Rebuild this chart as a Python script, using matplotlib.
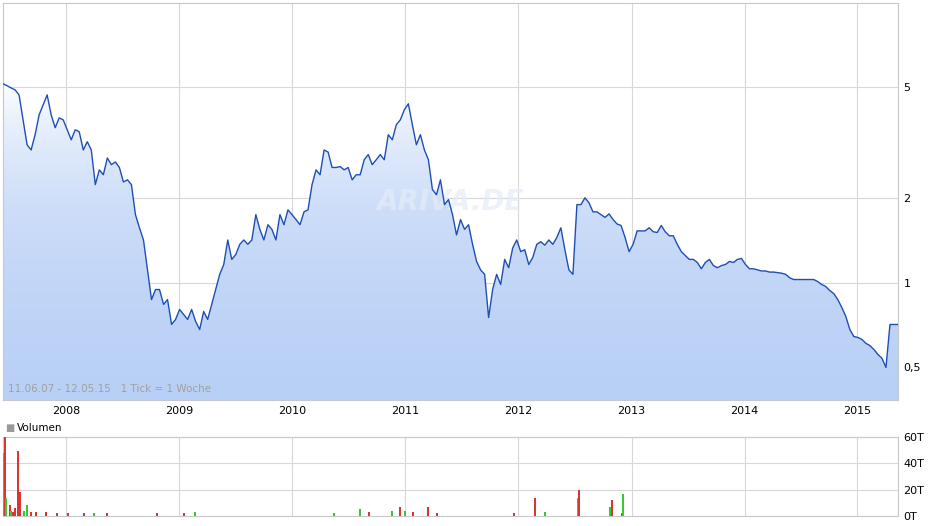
import numpy as np
import pandas as pd
import matplotlib
matplotlib.use("Agg")
import matplotlib.pyplot as plt
import matplotlib.dates as mdates
from matplotlib.patches import Polygon
from matplotlib.colors import LinearSegmentedColormap

start, end = "2007-06-11", "2015-05-12"
prices = [5.14,5.06,4.97,4.89,4.69,3.82,3.11,2.98,3.38,3.98,4.32,4.69,3.98,3.58,3.88,3.82,
          3.52,3.24,3.52,3.46,2.98,3.19,2.98,2.24,2.53,2.43,2.79,2.64,2.70,2.58,2.29,2.33,
          2.24,1.75,1.57,1.42,1.11,0.869,0.944,0.944,0.835,0.869,0.708,0.738,
          0.801,0.769,0.738,0.801,0.726,0.679,0.788,0.738,0.835,0.944,1.07,1.16,1.42,1.21,
          1.26,1.37,1.42,1.37,1.42,1.75,1.55,1.42,1.61,1.55,1.42,1.75,1.61,1.82,1.75,1.68,
          1.61,1.79,1.82,2.24,2.53,2.43,2.98,2.93,2.58,2.58,2.60,2.53,2.58,2.33,2.43,2.43,
          2.75,2.87,2.64,2.75,2.87,2.75,3.38,3.24,3.67,3.82,4.15,4.36,3.67,3.11,3.38,2.98,
          2.75,2.15,2.06,2.33,1.90,1.98,1.75,1.48,1.68,1.55,1.61,1.37,1.19,1.11,1.07,0.750,
          0.944,1.07,0.984,1.21,1.13,1.33,1.42,1.29,1.31,1.16,1.23,1.37,1.40,1.36,1.42,1.37,
          1.45,1.57,1.31,1.11,1.07,
          1.90,1.90,2.01,1.93,1.79,1.79,1.75,1.71,1.76,1.68,1.62,1.60,1.45,1.29,1.37,1.53,
          1.53,1.53,1.57,1.52,1.51,1.60,1.52,1.47,1.47,1.37,1.29,1.25,1.21,1.21,1.18,1.12,
          1.18,1.21,1.15,1.13,1.15,1.16,1.19,1.18,1.21,1.22,1.16,1.12,1.12,1.11,1.10,1.10,
          1.09,1.09,1.085,1.08,1.07,1.04,1.025,1.025,1.025,1.025,1.025,1.025,1.008,0.984,
          0.968,0.936,0.913,0.869,0.814,0.756,0.679,0.641,0.636,0.626,0.606,0.595,0.576,
          0.553,0.536,0.497,0.708,0.708,0.708]
vol_years = [2007.45,2007.46,2007.47,2007.50,2007.51,2007.53,2007.55,2007.57,2007.59,2007.63,
             2007.65,2007.69,2007.73,2007.82,2007.92,2008.02,2008.16,2008.25,2008.36,2008.80,
             2009.04,2009.14,2010.37,2010.60,2010.68,2010.88,2010.95,2011.00,2011.07,2011.20,
             2011.28,2011.96,2012.15,2012.24,2012.53,2012.54,2012.81,2012.83,2012.92,2012.93]
vol_values = [48,60,14,8,4,3,6,49,18,4,8,3,3,3,2,2,2,2,2,2,2,3,2,5,3,4,7,4,3,7,2,2,14,3,14,20,7,12,2,17]
vol_colors = ["g","r","g","r","g","r","r","r","r","g","g","r","r","r","r","r","r","g","r","r",
              "r","g","g","g","r","g","r","g","r","r","r","r","r","g","g","r","g","r","r","g"]

W, H = 940, 526
fig = plt.figure(figsize=(W/100, H/100), dpi=100)
ax = fig.add_axes([3/W, 1-400/H, 895/W, 397/H])
axv = fig.add_axes([3/W, 1-516/H, 895/W, 79/H])

dates = pd.date_range(start, end, periods=len(prices))
x = mdates.date2num(dates)
p = np.array(prices)
ymin, ymax = 0.38, 10.0
ax.set_yscale("log")
ax.set_xlim(x[0], x[-1]); ax.set_ylim(ymin, ymax)

grad = np.linspace(0, 1, 256).reshape(-1, 1)
cm = LinearSegmentedColormap.from_list("g", ["#b9d0f6", "#ffffff"])
poly = Polygon(np.column_stack([np.r_[x, x[-1], x[0]], np.r_[p, ymin, ymin]]),
               closed=True, facecolor="none", edgecolor="none")
ax.add_patch(poly)
im = ax.imshow(grad, aspect="auto", cmap=cm, origin="lower",
               extent=[x[0], x[-1], ymin, 5.2], zorder=1)
im.set_clip_path(poly)
ax.plot(x, p, color="#1f4fb5", lw=1.0, zorder=3)

yt = [0.5, 1, 2, 5]
ax.set_yticks(yt); ax.set_yticklabels(["0,5", "1", "2", "5"])
ax.yaxis.set_minor_locator(matplotlib.ticker.NullLocator())
ax.yaxis.tick_right()
years = [mdates.date2num(pd.Timestamp(f"{y}-01-01")) for y in range(2008, 2016)]
ax.set_xticks(years); ax.set_xticklabels([str(y) for y in range(2008, 2016)])
for a in (ax, axv):
    a.grid(True, color="#d8d8d8", lw=0.8, zorder=0)
    a.set_axisbelow(True)
    a.tick_params(length=0, labelsize=8, pad=4)
    for s in a.spines.values():
        s.set_color("#c8c8c8")
ax.text(0.006, 0.02, "11.06.07 - 12.05.15   1 Tick = 1 Woche", transform=ax.transAxes,
        fontsize=7.5, color="#a0a0a0", zorder=4)
ax.text(0.5, 0.5, "ARIVA.DE", transform=ax.transAxes, fontsize=20, color="#e4ecf8",
        alpha=0.7, ha="center", va="center", fontweight="bold", style="italic", zorder=2)

vx = [mdates.date2num(pd.Timestamp("2007-01-01") + pd.Timedelta(days=(v-2007)*365.25)) for v in vol_years]
cmap = {"g": "#33cc33", "r": "#dd3333"}
axv.vlines(vx, 0, vol_values, colors=[cmap[c] for c in vol_colors], lw=1.1, zorder=3,
           antialiased=False)
axv.set_xlim(x[0], x[-1]); axv.set_ylim(0, 60)
axv.set_yticks([0, 20, 40, 60]); axv.set_yticklabels(["0T", "20T", "40T", "60T"])
axv.yaxis.tick_right()
axv.set_xticks(years); axv.set_xticklabels([])
fig.text(5/W, 1-428/H, "\u25a0", fontsize=7, color="#999999", va="center")
fig.text(17/W, 1-428/H, "Volumen", fontsize=7.5, va="center")
fig.savefig("out.png", dpi=100)
